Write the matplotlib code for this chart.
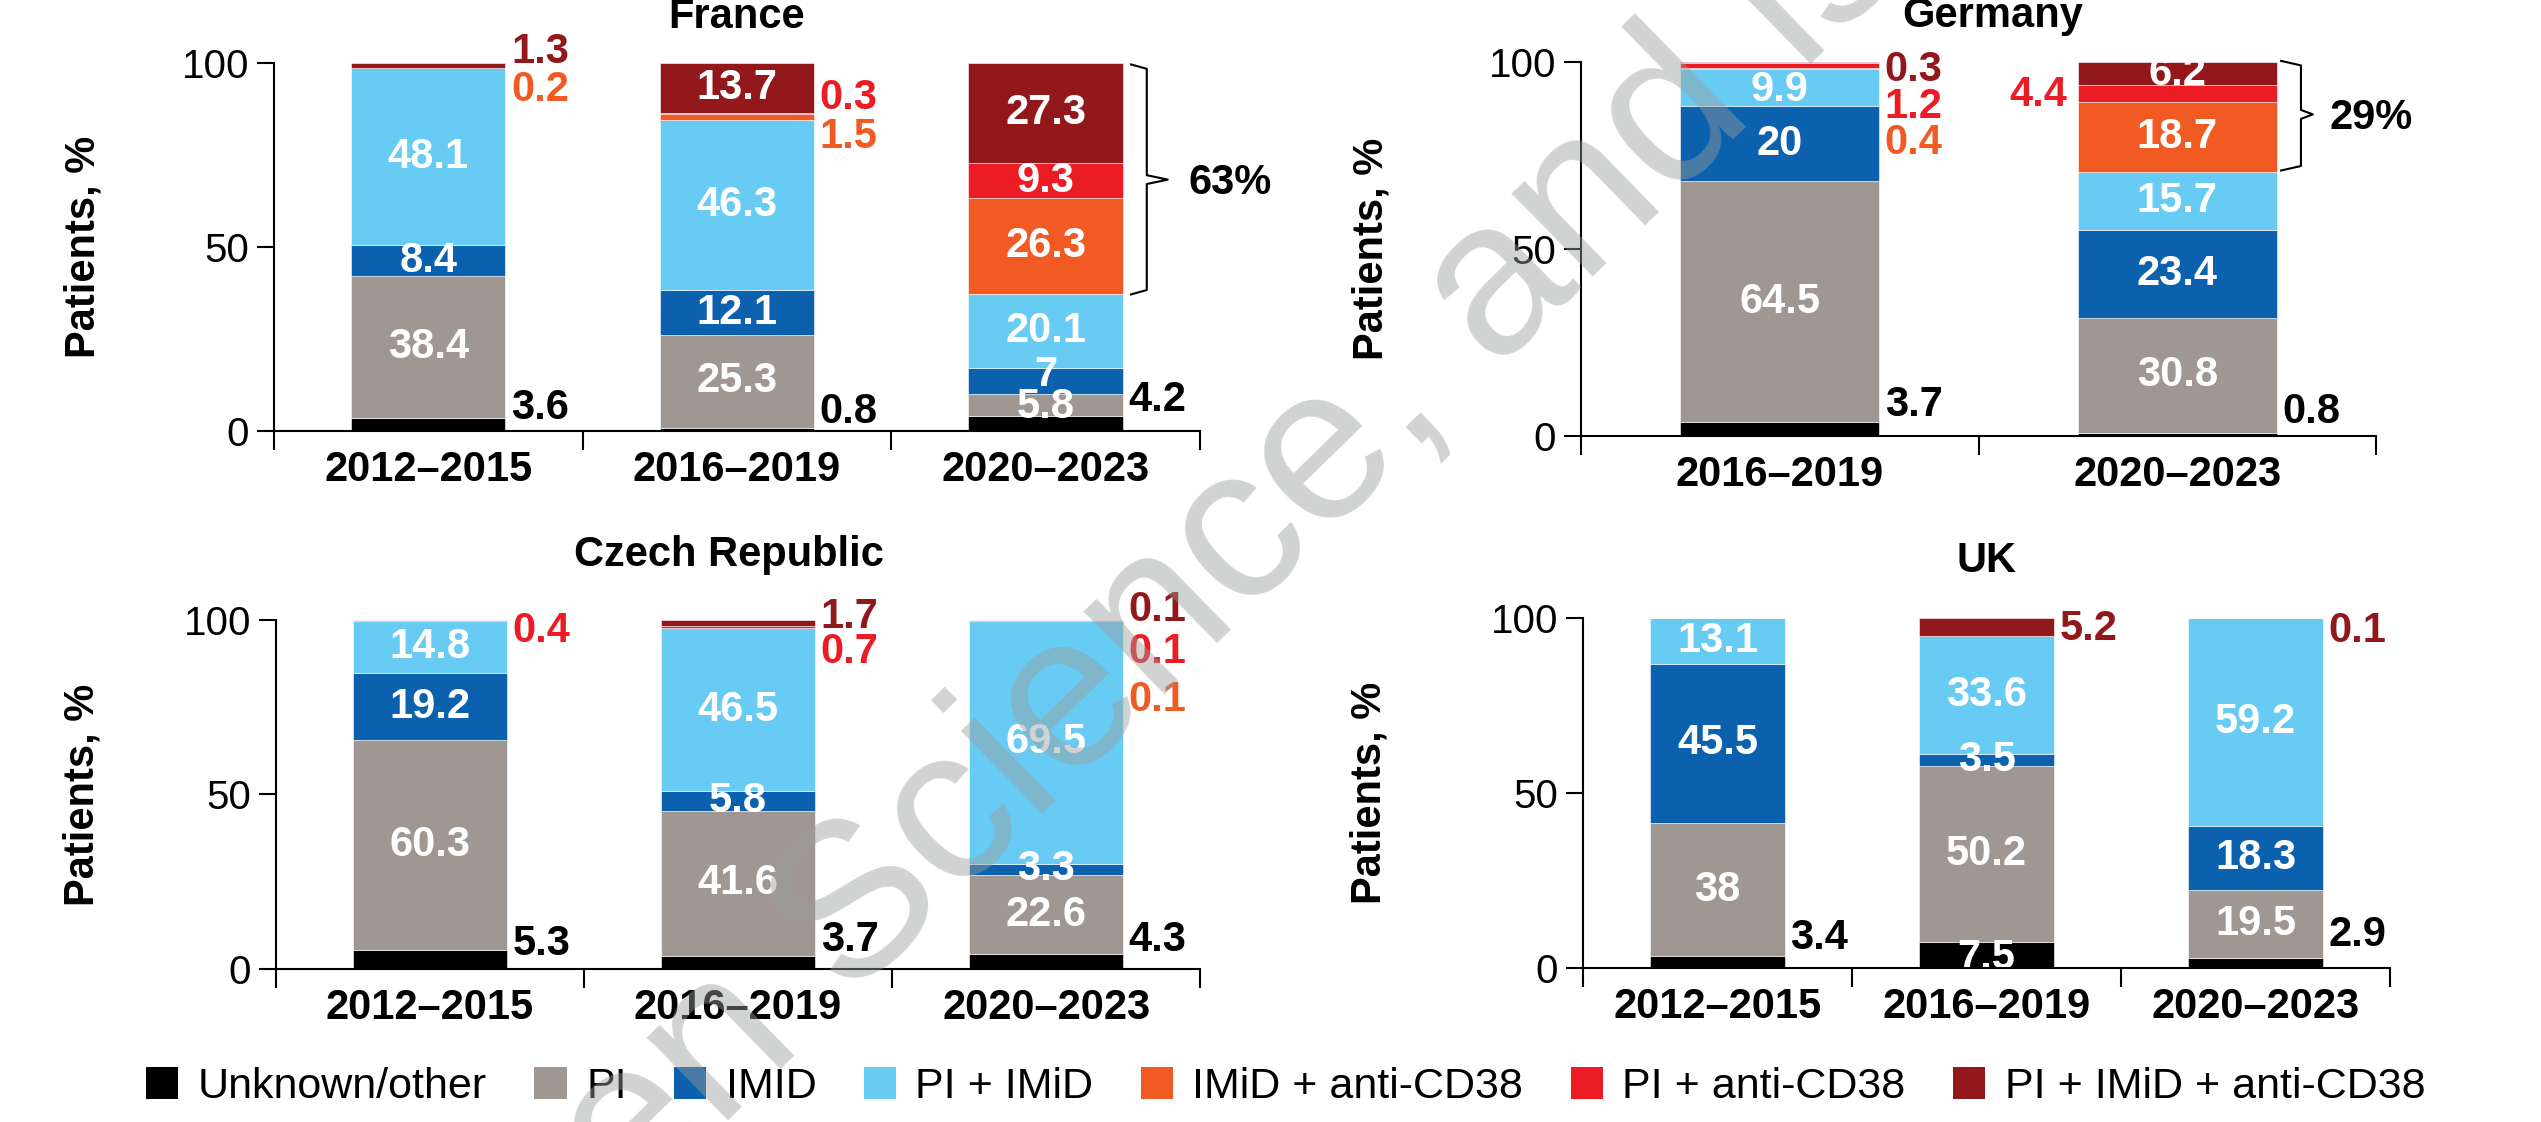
import numpy as np
import matplotlib
matplotlib.use('Agg')
import matplotlib.pyplot as plt
from matplotlib.patches import Patch

plt.rcParams['font.family'] = ['Liberation Sans', 'DejaVu Sans']

# treatment classes, bottom to top of each stack
treatments = ['Unknown/other', 'PI', 'IMID', 'PI + IMiD', 'IMiD + anti-CD38',
              'PI + anti-CD38', 'PI + IMiD + anti-CD38']
colours = ['#000000', '#a09793', '#0b61ad', '#68cbf3', '#f15a22', '#ec1c24', '#93181c']

# % of patients per period, same order as treatments
france_periods = ['2012–2015', '2016–2019', '2020–2023']
france_values = [[3.6, 38.4, 8.4, 48.1, 0.2, 0.0, 1.3],
                 [0.8, 25.3, 12.1, 46.3, 1.5, 0.3, 13.7],
                 [4.2, 5.8, 7.0, 20.1, 26.3, 9.3, 27.3]]

germany_periods = ['2016–2019', '2020–2023']
germany_values = [[3.7, 64.5, 20.0, 9.9, 0.4, 1.2, 0.3],
                  [0.8, 30.8, 23.4, 15.7, 18.7, 4.4, 6.2]]

czech_periods = ['2012–2015', '2016–2019', '2020–2023']
czech_values = [[5.3, 60.3, 19.2, 14.8, 0.0, 0.4, 0.0],
                [3.7, 41.6, 5.8, 46.5, 0.0, 0.7, 1.7],
                [4.3, 22.6, 3.3, 69.5, 0.1, 0.1, 0.1]]

uk_periods = ['2012–2015', '2016–2019', '2020–2023']
uk_values = [[3.4, 38.0, 45.5, 13.1, 0.0, 0.0, 0.0],
             [7.5, 50.2, 3.5, 33.6, 0.0, 0.0, 5.2],
             [2.9, 19.5, 18.3, 59.2, 0.0, 0.0, 0.1]]

# labels placed beside the bar: (bar, class) -> (y, side)
france_outside = {(0, 0): (6.2, 'r'), (0, 4): (92.7, 'r'), (0, 6): (103, 'r'),
                  (1, 0): (5.2, 'r'), (1, 4): (80, 'r'), (1, 5): (90.5, 'r'),
                  (2, 0): (8.4, 'r')}
germany_outside = {(0, 0): (8.3, 'r'), (0, 4): (78.3, 'r'), (0, 5): (88, 'r'),
                   (0, 6): (97.9, 'r'), (1, 0): (6.4, 'r'), (1, 5): (91.2, 'l')}
czech_outside = {(0, 0): (7.2, 'r'), (0, 5): (96.8, 'r'),
                 (1, 0): (8.3, 'r'), (1, 5): (90.8, 'r'), (1, 6): (101, 'r'),
                 (2, 0): (8.3, 'r'), (2, 4): (77, 'r'), (2, 5): (90.8, 'r'), (2, 6): (102.9, 'r')}
uk_outside = {(0, 0): (8.6, 'r'), (1, 6): (96.9, 'r'), (2, 0): (9.4, 'r'), (2, 6): (96.3, 'r')}

# small shifts of the white labels inside the bars
france_nudge = {(2, 1): -0.6, (2, 2): 1.7}
germany_nudge = {(0, 3): -0.6}
uk_nudge = {(1, 0): -0.8}

FS = 30


def draw_panel(ax, periods, values, outside, nudge, title, title_x, title_y, ylab_x):
    values = np.array(values)
    n = len(periods)
    x = np.arange(n)
    bottom = np.zeros(n)
    for k in range(values.shape[1]):
        ax.bar(x, values[:, k], 0.5, bottom=bottom, color=colours[k],
               edgecolor='white', linewidth=0.4, zorder=2)
        for i in range(n):
            v = values[i, k]
            if v <= 0:
                continue
            txt = f'{v:g}'
            if (i, k) in outside:
                y, side = outside[(i, k)]
                c = colours[k]
                if side == 'r':
                    ax.annotate(txt, xy=(i + 0.25, y), xytext=(4, 0), textcoords='offset points',
                                ha='left', va='center', color=c, fontsize=FS, fontweight='bold',
                                annotation_clip=False)
                else:
                    ax.annotate(txt, xy=(i - 0.25, y), xytext=(-8, 0), textcoords='offset points',
                                ha='right', va='center', color=c, fontsize=FS, fontweight='bold',
                                annotation_clip=False)
            else:
                y = bottom[i] + v / 2 + nudge.get((i, k), 0)
                ax.text(i, y, txt, ha='center', va='center', color='white',
                        fontsize=FS, fontweight='bold', zorder=3)
        bottom += values[:, k]

    ax.set_xlim(-0.5, n - 0.5)
    ax.set_ylim(0, 100)
    ax.spines[['top', 'right']].set_visible(False)
    ax.spines['left'].set_linewidth(1.5)
    ax.spines['bottom'].set_linewidth(1.5)
    ax.spines['bottom'].set_zorder(4)
    ax.set_yticks([0, 50, 100])
    ax.tick_params(axis='y', direction='out', length=12, width=1.5, labelsize=29, pad=6)
    ax.set_xticks(x)
    ax.set_xticklabels(periods, fontsize=FS, fontweight='bold')
    ax.set_xticks(np.arange(n + 1) - 0.5, minor=True)
    ax.tick_params(axis='x', which='major', length=0, pad=14)
    ax.tick_params(axis='x', which='minor', length=14, width=1.5, direction='out')

    ax.text(ylab_x, 0.5, 'Patients, %', rotation=90, transform=ax.transAxes,
            ha='center', va='center', fontsize=FS, fontweight='bold')
    ax.text(title_x, 1 + title_y, title, transform=ax.transAxes, ha='center',
            va='baseline', fontsize=FS, fontweight='bold')


def brace(ax, x_hook, x_line, x_tip, top, bot, mid, label, label_x):
    d = 1.2
    xs = [x_hook, x_line, x_line, x_tip, x_line, x_line, x_hook]
    ys = [top, top - d, mid + d, mid, mid - d, bot + d, bot]
    ax.plot(xs, ys, color='black', lw=1.5, clip_on=False, zorder=3)
    ax.text(label_x, mid - 1, label, ha='left', va='center', fontsize=FS, fontweight='bold')


fig = plt.figure(figsize=(25.41, 11.22), dpi=100)

ax_fr = fig.add_axes([0.1078, 0.6159, 0.3644, 0.3280])
ax_de = fig.add_axes([0.6222, 0.6114, 0.3129, 0.3333])
ax_cz = fig.add_axes([0.1086, 0.1364, 0.3637, 0.3110])
ax_uk = fig.add_axes([0.6230, 0.1373, 0.3176, 0.3119])

draw_panel(ax_fr, france_periods, france_values, france_outside, france_nudge,
           'France', 0.5, 0.095, -0.206)
draw_panel(ax_de, germany_periods, germany_values, germany_outside, germany_nudge,
           'Germany', 0.518, 0.094, -0.264)
draw_panel(ax_cz, czech_periods, czech_values, czech_outside, {},
           'Czech Republic', 0.49, 0.155, -0.209)
draw_panel(ax_uk, uk_periods, uk_values, uk_outside, uk_nudge,
           'UK', 0.5, 0.131, -0.264)

brace(ax_fr, 2.277, 2.328, 2.396, 99.6, 37.1, 68.3, '63%', 2.464)
brace(ax_de, 1.261, 1.311, 1.341, 100.3, 71.0, 86.0, '29%', 1.382)

handles = [Patch(facecolor=c, edgecolor='none') for c in colours]
fig.legend(handles, treatments, ncol=7, loc='center', bbox_to_anchor=(0.506, 0.031),
           frameon=False, fontsize=31, handlelength=0.75, handleheight=0.75,
           handletextpad=0.45, columnspacing=1.1, borderpad=0)

# faint diagonal watermark over the whole figure
fig.text(0.2483, -0.0838, 'en Science, and is', rotation=44.3, rotation_mode='anchor',
         ha='left', va='baseline', fontsize=158, color='#9a9d9d', alpha=0.45, zorder=10)

fig.savefig('out.png', dpi=100)
